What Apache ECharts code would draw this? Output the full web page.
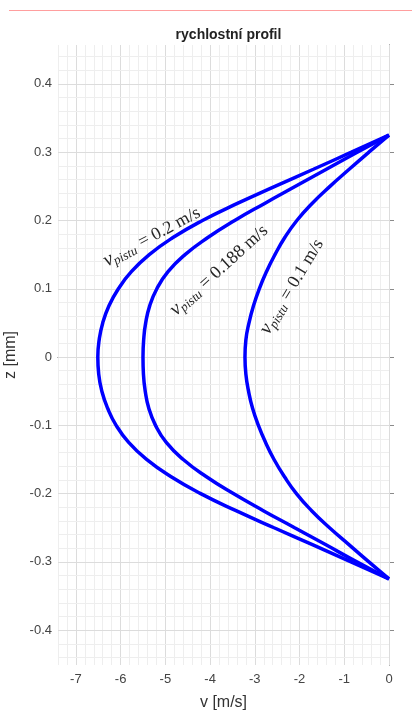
<!DOCTYPE html>
<html><head><meta charset="utf-8">
<script src="https://cdn.jsdelivr.net/npm/echarts@6/dist/echarts.min.js"></script>
<style>html,body{margin:0;padding:0;background:#fff}#c{width:412px;height:717px}</style>
</head><body><div id="c"></div>
<script>
// z positions [mm]
const zValues = [0.325, 0.3, 0.275, 0.25, 0.225, 0.2, 0.175, 0.15, 0.125, 0.1, 0.075, 0.05, 0.025, 0,
  -0.025, -0.05, -0.075, -0.1, -0.125, -0.15, -0.175, -0.2, -0.225, -0.25, -0.275, -0.3, -0.325];
// velocity [m/s] for v_pistu = 0.2 m/s
const vPiston02 = [0, -0.84, -1.69, -2.55, -3.39, -4.17, -4.83, -5.36, -5.76, -6.05, -6.26, -6.40, -6.48, -6.51,
  -6.49, -6.42, -6.29, -6.10, -5.82, -5.42, -4.88, -4.21, -3.42, -2.57, -1.70, -0.85, 0];
// velocity [m/s] for v_pistu = 0.188 m/s
const vPiston0188 = [0, -0.71, -1.40, -2.09, -2.78, -3.45, -4.05, -4.56, -4.94, -5.19, -5.35, -5.44, -5.485, -5.5,
  -5.49, -5.45, -5.37, -5.22, -4.98, -4.60, -4.09, -3.48, -2.81, -2.11, -1.41, -0.72, 0];
// velocity [m/s] for v_pistu = 0.1 m/s
const vPiston01 = [0, -0.45, -0.89, -1.32, -1.72, -2.06, -2.33, -2.55, -2.74, -2.9, -3.03, -3.13, -3.2, -3.22,
  -3.2, -3.14, -3.05, -2.92, -2.76, -2.57, -2.34, -2.07, -1.73, -1.33, -0.89, -0.45, 0];

const xTicks = [-7, -6, -5, -4, -3, -2, -1, 0];
const yTicks = [-0.4, -0.3, -0.2, -0.1, 0, 0.1, 0.2, 0.3, 0.4];
const seriesNames = ['0.2 m/s', '0.188 m/s', '0.1 m/s'];
// label anchor points (data coords) and angles
const labelAnchorV = [-5.30, -3.80, -2.17];
const labelAnchorZ = [0.176, 0.127, 0.103];
const labelAngles = [28, 42, 59];

const X_MIN = -7.4, X_MAX = 0, Y_MIN = -0.451, Y_MAX = 0.457;

function pairs(vs) { return vs.map((v, i) => [v, zValues[i]]); }

// grid lines (major at ticks, minor 5 subdivisions)
const gridLines = [];
for (let k = -37; k <= 0; k++) {
  const v = +(k * 0.2).toFixed(2);
  const major = k % 5 === 0;
  gridLines.push({ xAxis: v, lineStyle: { color: major ? '#dcdcdc' : '#eeeeee', width: 1, type: 'solid' } });
}
for (let k = -22; k <= 22; k++) {
  const z = +(k * 0.02).toFixed(2);
  const major = k % 5 === 0;
  gridLines.push({ yAxis: z, lineStyle: { color: major ? '#dcdcdc' : '#eeeeee', width: 1, type: 'solid' } });
}

const chart = echarts.init(document.getElementById('c'), null, { renderer: 'canvas' });
const axisColor = '#8a8a8a';
const labelColor = '#444';
const fontFam = '"Liberation Sans", Arial, sans-serif';
const serif = '"Liberation Serif", "DejaVu Serif", serif';

const option = {
  animation: false,
  backgroundColor: '#fff',
  title: {
    text: 'rychlostní profil', left: 223.5, top: 23, textAlign: 'center',
    textStyle: { fontSize: 14, fontWeight: 'bold', color: '#222', fontFamily: fontFam }
  },
  grid: { left: 58, right: 23, top: 45, bottom: 52, containLabel: false, outerBoundsMode: 'none' },
  xAxis: [{
    type: 'value', min: X_MIN, max: X_MAX, position: 'bottom',
    name: 'v [m/s]', nameLocation: 'middle', nameGap: 30,
    nameTextStyle: { fontSize: 16, color: '#333', fontFamily: fontFam },
    axisLine: { show: true, lineStyle: { color: axisColor, width: 1 } },
    axisTick: { show: true, inside: true, length: 5, customValues: xTicks, lineStyle: { color: axisColor } },
    axisLabel: { show: true, customValues: xTicks, margin: 8, fontSize: 13, color: labelColor, fontFamily: fontFam,
      formatter: v => String(Math.round(v)) },
    splitLine: { show: false }
  }, {
    type: 'value', min: X_MIN, max: X_MAX, position: 'top',
    axisLine: { show: true, lineStyle: { color: axisColor, width: 1 } },
    axisTick: { show: true, inside: true, length: 5, customValues: xTicks, lineStyle: { color: axisColor } },
    axisLabel: { show: false }, splitLine: { show: false }
  }],
  yAxis: [{
    type: 'value', min: Y_MIN, max: Y_MAX, position: 'left',
    name: 'z [mm]', nameLocation: 'middle', nameGap: 34, nameRotate: 90,
    nameTextStyle: { fontSize: 16, color: '#333', fontFamily: fontFam },
    axisLine: { show: true, lineStyle: { color: axisColor, width: 1 } },
    axisTick: { show: true, inside: true, length: 5, customValues: yTicks, lineStyle: { color: axisColor } },
    axisLabel: { show: true, customValues: yTicks, margin: 6, fontSize: 13, color: labelColor, fontFamily: fontFam,
      formatter: v => (Math.abs(v) < 1e-9 ? '0' : (+v.toFixed(1)).toString()) },
    splitLine: { show: false }
  }, {
    type: 'value', min: Y_MIN, max: Y_MAX, position: 'right',
    axisLine: { show: true, lineStyle: { color: axisColor, width: 1 } },
    axisTick: { show: true, inside: true, length: 5, customValues: yTicks, lineStyle: { color: axisColor } },
    axisLabel: { show: false }, splitLine: { show: false }
  }],
  series: [{
    type: 'line', name: 'grid', xAxisIndex: 0, yAxisIndex: 0, z: 1, silent: true,
    data: [[X_MIN, 0]], symbol: 'none', lineStyle: { opacity: 0 },
    markLine: { silent: true, animation: false, symbol: ['none', 'none'], label: { show: false },
      emphasis: { disabled: true }, data: gridLines }
  }, {
    type: 'line', name: seriesNames[0], data: pairs(vPiston02), smooth: 0.5, symbol: 'none', z: 5,
    lineStyle: { color: '#0000ff', width: 3.5 }
  }, {
    type: 'line', name: seriesNames[1], data: pairs(vPiston0188), smooth: 0.5, symbol: 'none', z: 5,
    lineStyle: { color: '#0000ff', width: 3.5 }
  }, {
    type: 'line', name: seriesNames[2], data: pairs(vPiston01), smooth: 0.5, symbol: 'none', z: 5,
    lineStyle: { color: '#0000ff', width: 3.5 }
  }]
};
chart.setOption(option);

const graphics = [{
  type: 'line', shape: { x1: 9, y1: 10.5, x2: 412, y2: 10.5 }, style: { stroke: '#ff9e9e', lineWidth: 1 }, silent: true
}];
for (let i = 0; i < seriesNames.length; i++) {
  const p = chart.convertToPixel({ gridIndex: 0 }, [labelAnchorV[i], labelAnchorZ[i]]);
  graphics.push({
    type: 'text', x: p[0], y: p[1], rotation: labelAngles[i] * Math.PI / 180, z: 10, silent: true,
    style: {
      text: '{v|v}{s|pistu}{t| = ' + seriesNames[i] + '}',
      align: 'center', verticalAlign: 'middle', fill: '#262626',
      rich: {
        v: { fontSize: 20, fontStyle: 'italic', fontFamily: serif, fill: '#262626' },
        s: { fontSize: 13, fontStyle: 'italic', fontFamily: serif, fill: '#262626', padding: [9, 1, 0, 0] },
        t: { fontSize: 18, fontFamily: serif, fill: '#262626' }
      }
    }
  });
}
chart.setOption({ graphic: graphics });
</script>
</body></html>
